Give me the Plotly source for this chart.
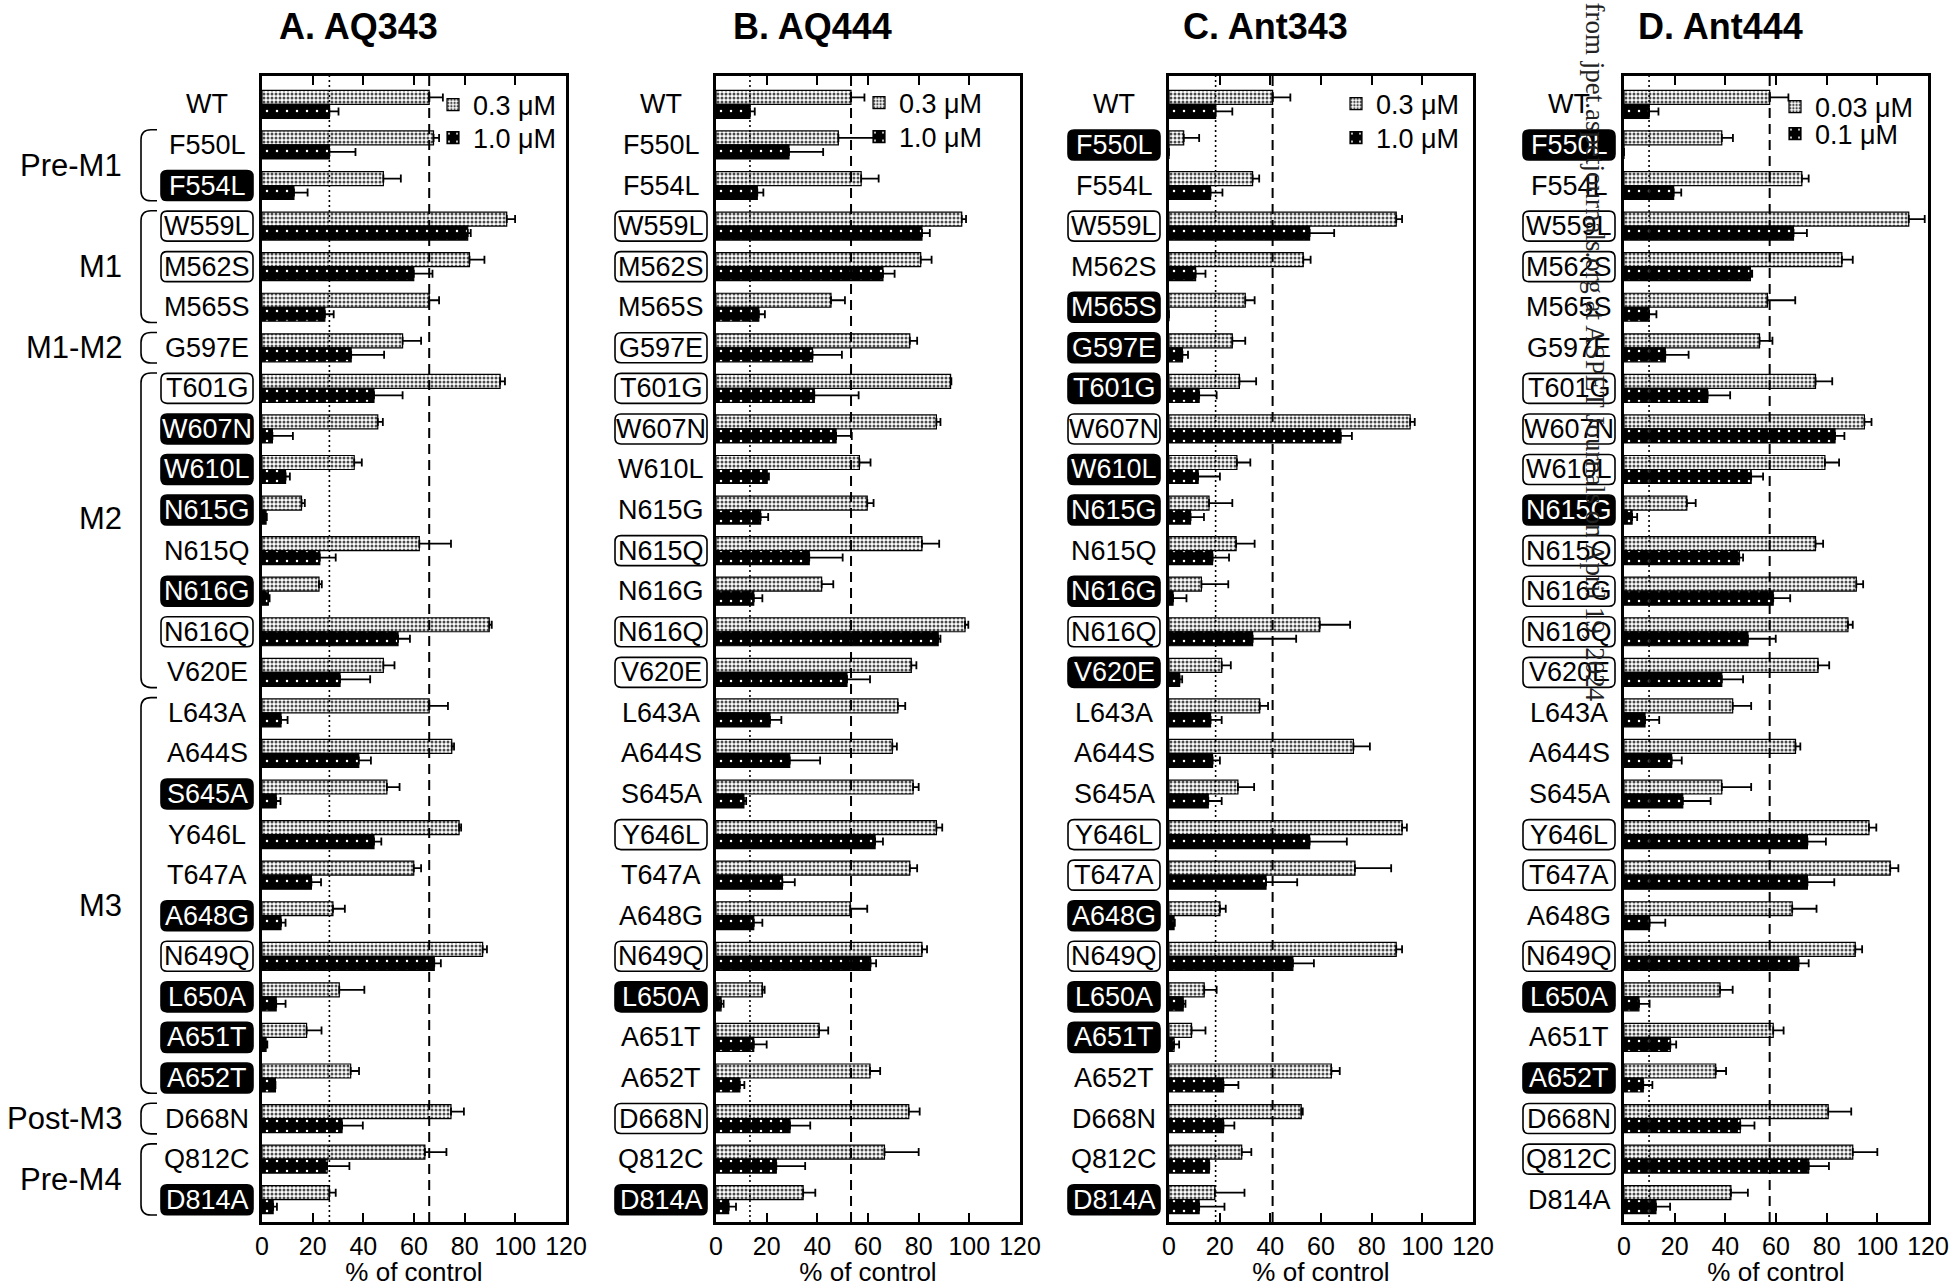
import plotly.graph_objects as go

W, H = 1952, 1287

mutants = ["WT", "F550L", "F554L", "W559L", "M562S", "M565S", "G597E", "T601G", "W607N", "W610L",
           "N615G", "N615Q", "N616G", "N616Q", "V620E", "L643A", "A644S", "S645A", "Y646L", "T647A",
           "A648G", "N649Q", "L650A", "A651T", "A652T", "D668N", "Q812C", "D814A"]

panel_titles = ["A. AQ343", "B. AQ444", "C. Ant343", "D. Ant444"]
conc_labels = [["0.3 μM", "1.0 μM"], ["0.3 μM", "1.0 μM"], ["0.3 μM", "1.0 μM"], ["0.03 μM", "0.1 μM"]]

# label styles: p = plain, b = boxed, f = filled (black)
styles_A = "p p f b b p p b f f f p f b p p p f p p f b f f f p p f".split()
styles_B = "p p p b b p b b b p p b p b b p p p b p p b f p p b p f".split()
styles_C = "p f p b p f f f b f f p f b f p p p b b f b f f p p p f".split()
styles_D = "p f p b b p p b b b f b b b b p p p b b p b f p f b b p".split()

# (name, first row, last row, label row position)
groups = [("Pre-M1", 1, 2, 1.5), ("M1", 3, 5, 4), ("M1-M2", 6, 6, 6), ("M2", 7, 14, 10.2),
          ("M3", 15, 24, 19.75), ("Post-M3", 25, 25, 25), ("Pre-M4", 26, 27, 26.5)]

# % of control (low concentration / high concentration) and +SEM
aq343_lo = [66.0, 67.7, 47.9, 96.6, 81.9, 66.0, 55.5, 94.0, 45.7, 36.4, 15.6, 62.1, 22.5, 89.7,
            47.9, 66.0, 74.9, 49.3, 77.8, 59.9, 28.0, 87.1, 30.5, 17.6, 35.0, 74.6, 64.3, 26.6]
aq343_lo_sem = [5.4, 2.2, 6.9, 3.3, 5.9, 3.9, 7.3, 1.9, 2.0, 3.0, 1.3, 12.5, 1.1, 1.0,
                4.4, 7.4, 0.9, 5.0, 0.8, 2.9, 4.7, 1.7, 9.9, 5.9, 3.3, 5.1, 8.5, 2.5]
aq343_hi = [26.6, 26.6, 12.6, 81.2, 59.9, 24.8, 35.2, 44.2, 4.1, 9.3, 1.6, 22.8, 2.5, 53.7,
            30.8, 7.5, 38.2, 5.6, 44.2, 19.5, 7.5, 68.0, 5.6, 1.6, 5.3, 31.6, 25.7, 4.4]
aq343_hi_sem = [3.6, 10.3, 5.4, 1.2, 7.4, 3.5, 13.0, 11.3, 8.1, 1.7, 0.3, 6.3, 0.5, 4.7,
                11.9, 2.6, 4.8, 1.7, 2.9, 3.8, 1.8, 2.6, 3.7, 0.5, None, 8.2, 8.8, 1.5]

aq444_lo = [53.3, 48.3, 57.3, 97.0, 80.8, 45.4, 76.5, 92.6, 87.0, 56.6, 59.7, 81.3, 41.7, 98.3,
            77.1, 71.8, 69.6, 77.8, 87.0, 76.5, 53.0, 81.3, 18.3, 40.7, 60.8, 76.1, 66.5, 34.4]
aq444_lo_sem = [5.3, 17.6, 6.9, 1.7, 4.3, 5.5, 2.9, 0.3, 1.6, 4.4, 2.5, 6.8, 4.6, 1.3,
                2.0, 2.9, 1.8, 2.2, 2.3, 2.9, 6.7, 2.0, 0.9, 3.6, 4.0, 4.3, 13.5, 4.8]
aq444_hi = [13.4, 28.8, 16.3, 81.3, 65.9, 16.9, 38.1, 38.8, 47.4, 20.2, 17.6, 36.8, 14.9, 87.7,
            51.7, 21.3, 29.1, 11.0, 62.8, 26.2, 14.9, 61.0, 2.0, 14.9, 9.4, 29.2, 23.8, 5.0]
aq444_hi_sem = [1.9, 13.5, 2.4, 3.1, 4.6, 2.4, 11.6, 17.5, 6.2, 0.7, 3.0, 13.2, 3.4, 0.9,
                9.1, 4.5, 12.0, 0.9, 3.1, 4.9, 3.4, 2.2, 1.0, 5.1, 1.8, 8.0, 11.4, 2.9]

ant343_lo = [40.9, 5.8, 33.0, 89.7, 53.0, 30.1, 25.0, 27.8, 95.2, 26.8, 15.8, 26.5, 12.8, 59.5,
             20.8, 35.8, 72.8, 27.2, 92.0, 73.4, 20.1, 89.7, 13.9, 8.9, 64.1, 52.2, 28.7, 18.1]
ant343_lo_sem = [7.0, 6.1, 2.6, 2.3, 2.9, 3.7, 5.1, 6.6, 1.8, 5.3, 9.2, 7.3, 10.6, 12.0,
                 3.6, 3.3, 6.5, 6.4, 1.9, 14.3, 2.3, 2.3, 4.9, 5.5, 3.3, 0.6, 3.8, 11.7]
ant343_hi = [18.4, 0.0, 16.4, 55.5, 10.5, 0.0, 5.3, 11.9, 67.8, 11.5, 8.5, 17.2, 1.6, 33.0,
             4.2, 16.4, 17.2, 15.5, 55.5, 38.3, 2.0, 48.9, 5.6, 2.0, 21.5, 21.5, 15.9, 11.9]
ant343_hi_sem = [6.6, None, 4.7, 9.7, 3.9, None, 2.2, 6.9, 4.4, 8.6, 5.3, 6.5, 5.3, 17.2,
                 1.0, 4.4, 2.9, 5.3, 14.7, 12.3, 0.3, 8.3, 0.9, 2.0, 5.9, 4.3, None, 10.0]

ant444_lo = [57.5, 38.6, 70.2, 112.4, 86.0, 56.6, 53.5, 75.6, 94.9, 79.3, 24.8, 75.6, 91.7, 88.4,
             76.6, 42.9, 67.7, 38.6, 96.7, 105.1, 66.4, 91.3, 37.9, 58.9, 36.2, 80.6, 90.3, 42.2]
ant444_lo_sem = [7.4, 4.4, 2.7, 6.3, 4.3, 11.0, 5.1, 6.6, 2.8, 5.6, 3.5, 3.0, 2.7, 1.9,
                 4.4, 7.3, 1.9, 11.6, 2.9, 3.2, 9.6, 2.7, 5.0, 4.1, 4.1, 9.1, 9.7, 6.7]
ant444_hi = [9.9, 0.0, 19.6, 66.9, 49.9, 9.9, 16.3, 33.0, 83.3, 50.2, 3.2, 45.5, 58.9, 48.9,
             38.6, 8.3, 18.8, 23.2, 72.4, 72.4, 10.1, 68.9, 5.9, 18.3, 7.6, 45.9, 72.9, 12.6]
ant444_hi_sem = [3.7, None, 3.0, 5.3, 0.7, 2.9, 9.2, 8.9, 3.7, 4.7, 2.0, 1.5, 6.7, 11.0,
                 8.4, 5.6, 4.0, 11.0, 7.3, 10.6, 6.2, 4.0, 4.2, 2.3, 3.6, 5.6, 8.0, 5.6]

x_ticks = [0, 20, 40, 60, 80, 100, 120]

panels = [
    (aq343_lo, aq343_lo_sem, aq343_hi, aq343_hi_sem, styles_A),
    (aq444_lo, aq444_lo_sem, aq444_hi, aq444_hi_sem, styles_B),
    (ant343_lo, ant343_lo_sem, ant343_hi, ant343_hi_sem, styles_C),
    (ant444_lo, ant444_lo_sem, ant444_hi, ant444_hi_sem, styles_D),
]

# ---------------- layout geometry (pixels) ----------------
FONT = "Liberation Sans, Arial, Helvetica, sans-serif"
lefts = [262, 716, 1169, 1624]
PW = 304
TOP, BOT = 76, 1222
Y_RANGE = [27.55, -0.7]
ROW_PX = (BOT - TOP) / (Y_RANGE[0] - Y_RANGE[1])
y_dom = [1 - BOT / H, 1 - TOP / H]
legend_text_x = [473, 899, 1376, 1815]
legend_rows_y = [(105, 138), (103, 137), (104, 138), (107, 134)]


def rounded_rect(x0, x1, y0, y1, r):
    return (f"M{x0 + r},{y0} L{x1 - r},{y0} Q{x1},{y0} {x1},{y0 + r} "
            f"L{x1},{y1 - r} Q{x1},{y1} {x1 - r},{y1} L{x0 + r},{y1} "
            f"Q{x0},{y1} {x0},{y1 - r} L{x0},{y0 + r} Q{x0},{y0} {x0 + r},{y0} Z")


def bracket(xv, xe, h, r):
    return (f"M{xe},{h} L{xv + r},{h} Q{xv},{h} {xv},{h - r} "
            f"L{xv},{-h + r} Q{xv},{-h} {xv + r},{-h} L{xe},{-h}")


fig = go.Figure()
shapes, annotations = [], []
layout = {}

for k, (lo, lo_sem, hi, hi_sem, styles) in enumerate(panels):
    sfx = "" if k == 0 else str(k + 1)
    xa, ya = "x" + sfx, "y" + sfx
    lg_lo = "legend" if k == 0 else "legend" + str(2 * k + 1)
    lg_hi = "legend" + str(2 * k + 2)
    left = lefts[k]
    fx0, fx1 = left / W, (left + PW) / W

    fig.add_trace(go.Bar(
        y=mutants, x=lo, orientation="h", name=conc_labels[k][0],
        xaxis=xa, yaxis=ya, legend=lg_lo, offsetgroup="lo", showlegend=True,
        marker=dict(color="white", line=dict(color="black", width=1.2),
                    pattern=dict(shape=".", fgcolor="#4a4a4a", bgcolor="white",
                                 size=4, solidity=0.45, fillmode="replace")),
        error_x=dict(type="data", array=lo_sem, symmetric=False,
                     arrayminus=[0] * len(lo), color="black", thickness=1.8, width=4),
    ))
    fig.add_trace(go.Bar(
        y=mutants, x=hi, orientation="h", name=conc_labels[k][1],
        xaxis=xa, yaxis=ya, legend=lg_hi, offsetgroup="hi", showlegend=True,
        marker=dict(color="black", line=dict(color="black", width=1.2),
                    pattern=dict(shape=".", fgcolor="white", bgcolor="black",
                                 size=10, solidity=0.05, fillmode="replace")),
        error_x=dict(type="data", array=hi_sem, symmetric=False,
                     arrayminus=[0] * len(hi), color="black", thickness=1.8, width=4),
    ))

    layout["xaxis" + sfx] = dict(
        domain=[fx0, fx1], anchor=ya, range=[0, 120], tickvals=x_ticks,
        ticks="inside", ticklen=9, tickwidth=2, tickcolor="black",
        showline=True, linewidth=2.5, linecolor="black", mirror="ticks",
        showgrid=False, zeroline=False, automargin=False,
        tickfont=dict(size=25, family=FONT, color="black"),
        title=dict(text="% of control", font=dict(size=26, family=FONT, color="black"), standoff=4),
    )
    layout["yaxis" + sfx] = dict(
        domain=y_dom, anchor=xa, type="category", categoryorder="array",
        categoryarray=mutants, range=Y_RANGE, showticklabels=False, ticks="",
        showline=True, linewidth=2.5, linecolor="black", mirror=True,
        showgrid=False, zeroline=False, automargin=False,
    )
    for lg, ry in ((lg_lo, legend_rows_y[k][0]), (lg_hi, legend_rows_y[k][1])):
        layout[lg] = dict(
            x=(legend_text_x[k] - 40) / W, y=1 - ry / H, xanchor="left", yanchor="middle",
            bgcolor="rgba(0,0,0,0)", font=dict(size=27, family=FONT, color="black"),
            tracegroupgap=0, itemwidth=30, visible=True,
        )

    # reference lines at WT values
    shapes.append(dict(type="line", xref=xa, yref=ya + " domain", x0=lo[0], x1=lo[0],
                       y0=0, y1=1, line=dict(color="black", width=2, dash="10px,6px"),
                       layer="above"))
    shapes.append(dict(type="line", xref=xa, yref=ya + " domain", x0=hi[0], x1=hi[0],
                       y0=0, y1=1, line=dict(color="black", width=1.6, dash="2px,3px"),
                       layer="above"))

    # panel title
    annotations.append(dict(text="<b>" + panel_titles[k] + "</b>", xref="paper", yref="paper",
                            x=(left + 96) / W, y=1 - 27 / H, xanchor="center", yanchor="middle",
                            showarrow=False, font=dict(size=36, family=FONT, color="black")))

    # mutant labels
    for i, (name, st) in enumerate(zip(mutants, styles)):
        if st in ("b", "f"):
            shapes.append(dict(type="path", xref="paper", xsizemode="pixel", xanchor=fx0,
                               yref=ya, ysizemode="pixel", yanchor=i,
                               path=rounded_rect(-101, -9, -15, 15, 6),
                               fillcolor="black" if st == "f" else "white",
                               line=dict(color="black", width=1.6), layer="above"))
        annotations.append(dict(text=name, xref="paper", yref=ya, x=fx0, y=i, xshift=-55,
                                xanchor="center", yanchor="middle", showarrow=False,
                                font=dict(size=27, family=FONT,
                                          color="white" if st == "f" else "black")))

    # domain groups (panel A only)
    if k == 0:
        for gname, i0, i1, ylab in groups:
            ymid = (i0 + i1) / 2
            h = ((i1 - i0 + 1) * ROW_PX - 10) / 2
            shapes.append(dict(type="path", xref="paper", xsizemode="pixel", xanchor=fx0,
                               yref=ya, ysizemode="pixel", yanchor=ymid,
                               path=bracket(-121, -105, h, 10),
                               line=dict(color="black", width=1.6), layer="above"))
            annotations.append(dict(text=gname, xref="paper", yref=ya, x=fx0, y=ylab,
                                    xshift=-138, xanchor="right", yanchor="middle",
                                    showarrow=False,
                                    font=dict(size=31, family=FONT, color="black")))

# journal download stamp
annotations.append(dict(text="from jpet.aspetjournals.org at ASPET Journals on April 19, 2024",
                        xref="paper", yref="paper", x=1595 / W, y=1, xanchor="center",
                        yanchor="top", textangle=90, showarrow=False,
                        font=dict(size=27, family="Liberation Serif, Times New Roman, serif",
                                  color="#222")))

fig.update_layout(**layout)
fig.update_layout(
    width=W, height=H, margin=dict(l=0, r=0, t=0, b=0),
    template="none", paper_bgcolor="white", plot_bgcolor="white",
    showlegend=True,
    barmode="group", bargap=0.31, bargroupgap=0,
    font=dict(family=FONT, color="black"),
    shapes=shapes, annotations=annotations,
)

fig.write_html("out.html")
